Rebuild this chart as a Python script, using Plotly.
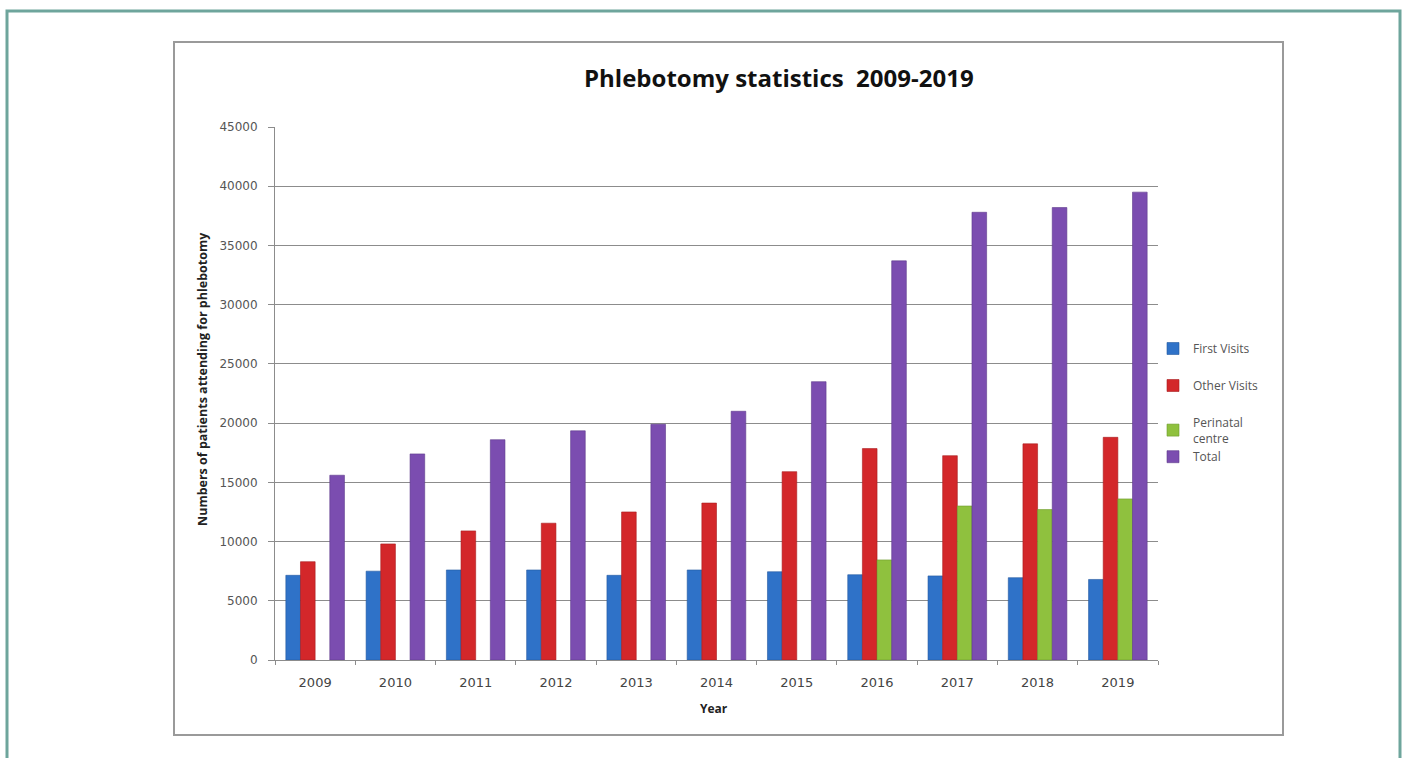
import plotly.graph_objects as go

# Phlebotomy attendance per year, 2009-2019
years = ["2009", "2010", "2011", "2012", "2013", "2014", "2015", "2016", "2017", "2018", "2019"]
first_visits = [7150, 7500, 7600, 7600, 7150, 7600, 7450, 7200, 7100, 6950, 6800]
other_visits = [8300, 9800, 10900, 11550, 12500, 13250, 15900, 17850, 17250, 18250, 18800]
perinatal_centre = [None, None, None, None, None, None, None, 8450, 13000, 12700, 13600]
total = [15600, 17400, 18600, 19350, 19900, 21000, 23500, 33700, 37800, 38200, 39500]

series_names = ["First Visits", "Other Visits", "Perinatal<br>centre", "Total"]
series_values = [first_visits, other_visits, perinatal_centre, total]
series_colors = ["#2f72c8", "#d3272a", "#8fc13e", "#7b4db0"]
series_lines = ["#2459a0", "#a81d1f", "#6d9a2c", "#5e3a8c"]
# perinatal and total share a legend block so they sit closer together
series_groups = ["g0", "g1", "g2", "g2"]

# plot-area pixel geometry
L, R, T, B = 275, 1158, 127, 660
W, H = 1407, 758


def px(x):
    return (x - L) / (R - L)


def py(y):
    return (B - y) / (B - T)


fig = go.Figure()
for name, vals, col, lc, grp in zip(series_names, series_values, series_colors, series_lines, series_groups):
    fig.add_trace(go.Bar(
        x=years, y=vals, name=name, legendgroup=grp,
        marker=dict(color=col, line=dict(color=lc, width=0.6)),
    ))

sans = "'Open Sans', 'DejaVu Sans', Arial, sans-serif"
wide = "'DejaVu Sans', Verdana, sans-serif"

fig.update_layout(
    width=W, height=H,
    margin=dict(l=L, r=W - R, t=T, b=H - B, pad=0),
    paper_bgcolor="white", plot_bgcolor="white",
    barmode="group", bargap=0.27, bargroupgap=0,
    font=dict(family=sans, color="#444444", size=10),
    showlegend=True,
    legend=dict(
        x=px(1153), y=py(334), xanchor="left", yanchor="top",
        font=dict(size=12, color="#555555", family=sans),
        tracegroupgap=18, itemwidth=30,
        bgcolor="rgba(0,0,0,0)",
    ),
    xaxis=dict(
        type="category", showgrid=False,
        showline=True, linecolor="#8c8c8c", linewidth=1,
        ticks="outside", tickson="boundaries", ticklen=4, tickcolor="#8c8c8c",
        tickfont=dict(size=13, color="#444444", family=wide),
        ticklabelstandoff=10,
    ),
    yaxis=dict(
        range=[0, 45000], dtick=5000, tick0=0, tickformat="d",
        showgrid=True, gridcolor="#8c8c8c", gridwidth=1,
        showline=True, linecolor="#8c8c8c", linewidth=1,
        ticks="outside", ticklen=6, tickcolor="#8c8c8c",
        tickfont=dict(size=12, color="#555555", family=wide),
        zeroline=False, ticklabelstandoff=8,
    ),
    annotations=[
        dict(text="<b>Phlebotomy statistics  2009-2019</b>", x=px(779), y=py(77),
             xref="paper", yref="paper", xanchor="center", yanchor="middle",
             showarrow=False, font=dict(size=24, color="#111111", family=sans)),
        dict(text="<b>Numbers of patients attending for phlebotomy</b>", x=px(202), y=py(379),
             xref="paper", yref="paper", xanchor="center", yanchor="middle",
             showarrow=False, textangle=-90,
             font=dict(size=12.5, color="#222222", family=sans)),
        dict(text="<b>Year</b>", x=px(714), y=py(708),
             xref="paper", yref="paper", xanchor="center", yanchor="middle",
             showarrow=False, font=dict(size=12, color="#222222", family=sans)),
    ],
    shapes=[
        # outer teal frame
        dict(type="rect", xref="paper", yref="paper",
             x0=px(7), x1=px(1400), y0=py(775), y1=py(11),
             line=dict(color="#6ea59c", width=3), layer="below"),
        # chart area border
        dict(type="rect", xref="paper", yref="paper",
             x0=px(174), x1=px(1283), y0=py(735), y1=py(42),
             line=dict(color="#9a9a9a", width=2), layer="below"),
    ],
)

fig.write_html("out.html")
